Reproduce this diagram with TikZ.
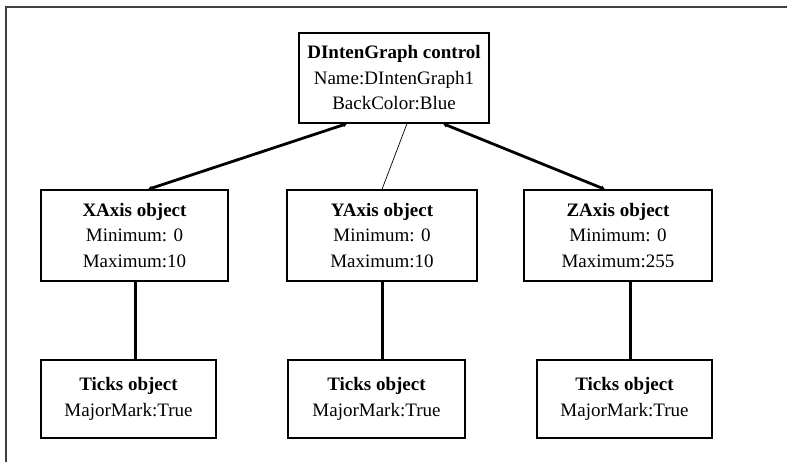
\documentclass[tikz,border=0pt]{standalone}
\usepackage{fontspec}
\setmainfont{Liberation Serif}
\usetikzlibrary{arrows.meta}
\begin{document}
\begin{tikzpicture}[x=1pt,y=-1pt,
  objbox/.style={draw=black, line width=1.3pt, rectangle, align=center,
    inner sep=0pt, font=\fontsize{19}{25.5}\selectfont},
  axisbox/.style={objbox, minimum height=91pt},
  tickbox/.style={objbox, minimum height=78pt},
  thicklink/.style={line width=2.8pt, {Triangle[length=4pt,width=4.5pt]}-{Triangle[length=4pt,width=4.5pt]}},
  thinlink/.style={line width=0.7pt},
  stem/.style={line width=3pt}]
\useasboundingbox (0,0) rectangle (787,462);
% page frame: top and left edges only
\draw[line width=2pt, black!75] (6,462) -- (6,7) -- (787,7);

% control
\node[objbox, minimum width=190pt, minimum height=90pt] (ctl) at (394,78)
  {\textbf{DIntenGraph control}\\Name:DIntenGraph1\\BackColor:Blue};

% axis objects
\node[axisbox, minimum width=187pt] (xa) at (134.5,235.5)
  {\textbf{XAxis object}\\Minimum: 0\\Maximum:10};
\node[axisbox, minimum width=190pt] (ya) at (382,235.5)
  {\textbf{YAxis object}\\Minimum: 0\\Maximum:10};
\node[axisbox, minimum width=188pt] (za) at (618,235.5)
  {\textbf{ZAxis object}\\Minimum: 0\\Maximum:255};

% ticks objects
\node[tickbox, minimum width=175pt] (tx) at (128.5,399)
  {\textbf{Ticks object}\\MajorMark:True};
\node[tickbox, minimum width=177pt] (ty) at (376.5,399)
  {\textbf{Ticks object}\\MajorMark:True};
\node[tickbox, minimum width=175pt] (tz) at (624.5,399)
  {\textbf{Ticks object}\\MajorMark:True};

% control to axes
\draw[thicklink] ([xshift=-47pt]ctl.south) -- ([xshift=13.5pt]xa.north);
\draw[thinlink]  ([xshift=13pt]ctl.south) -- (ya.north);
\draw[thicklink] ([xshift=49pt]ctl.south) -- ([xshift=-13pt]za.north);

% axes to ticks
\draw[stem] ([xshift=0.5pt]xa.south) -- ([xshift=0.5pt]xa.south |- tx.north);
\draw[stem] (ya.south) -- (ya.south |- ty.north);
\draw[stem] ([xshift=12pt]za.south) -- ([xshift=12pt]za.south |- tz.north);
\end{tikzpicture}
\end{document}
